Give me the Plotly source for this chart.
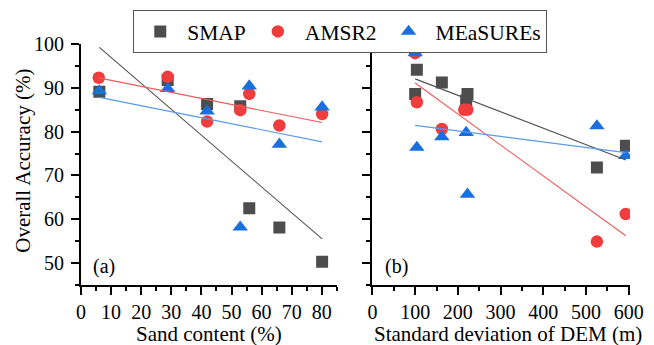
import numpy as np
import plotly.graph_objects as go

# ---------------- data ----------------
# Panel (a): Sand content (%)
sand_smap = [6.1, 28.8, 41.9, 52.9, 55.9, 65.9, 80.1]
oa_smap_a = [89.1, 91.8, 86.3, 85.8, 62.5, 58.1, 50.3]
sand_amsr2 = [5.9, 28.8, 41.9, 52.9, 55.9, 65.9, 80.1]
oa_amsr2_a = [92.3, 92.5, 82.3, 84.9, 88.6, 81.4, 84.0]
sand_meas = [6.1, 28.8, 41.9, 52.9, 55.9, 65.9, 80.1]
oa_meas_a = [89.3, 89.8, 84.7, 58.2, 90.4, 77.1, 85.6]

# Panel (b): Standard deviation of DEM (m)
dem_smap = [100, 104, 162.5, 219.4, 222.5, 525.5, 593.4]
oa_smap_b = [88.6, 94.1, 91.2, 87.1, 88.6, 71.8, 76.8]
dem_amsr2 = [100, 104, 162.5, 215, 222, 525.5, 593]
oa_amsr2_b = [97.9, 86.7, 80.6, 85.0, 85.0, 54.9, 61.2]
dem_meas = [100, 104, 162.5, 219.4, 222.5, 525.5, 593]
oa_meas_b = [98.0, 76.4, 78.8, 79.8, 65.7, 81.3, 74.5]

series = ["SMAP", "AMSR2", "MEaSUREs"]
y_ticks = [50, 60, 70, 80, 90, 100]
x_ticks_a = [0, 10, 20, 30, 40, 50, 60, 70, 80]
x_ticks_b = [0, 100, 200, 300, 400, 500, 600]
x_title_a = "Sand content (%)"
x_title_b = "Standard deviation of DEM (m)"
y_title = "Overall Accuracy (%)"

# ---------------- styling ----------------
FONT = "Liberation Serif"
marker_col = {"SMAP": "#4d4d4d", "AMSR2": "#f03c3c", "MEaSUREs": "#1a6fdf"}
line_col = {"SMAP": "#505050", "AMSR2": "#f05a5a", "MEaSUREs": "#5a9ae8"}
symbols = {"SMAP": "square", "AMSR2": "circle", "MEaSUREs": "triangle-up"}
sizes = {"SMAP": 12, "AMSR2": 12.5, "MEaSUREs": 13.5}

fig = go.Figure()

panels = [
    ("x", "y", {"SMAP": (sand_smap, oa_smap_a), "AMSR2": (sand_amsr2, oa_amsr2_a),
                "MEaSUREs": (sand_meas, oa_meas_a)}),
    ("x2", "y2", {"SMAP": (dem_smap, oa_smap_b), "AMSR2": (dem_amsr2, oa_amsr2_b),
                  "MEaSUREs": (dem_meas, oa_meas_b)}),
]

for pi, (xa, ya, d) in enumerate(panels):
    for s in series:
        xs, ys = d[s]
        fig.add_trace(go.Scatter(
            x=xs, y=ys, mode="markers", name=s, legendgroup=s,
            showlegend=(pi == 0), xaxis=xa, yaxis=ya,
            marker=dict(symbol=symbols[s], size=sizes[s], color=marker_col[s],
                        line=dict(width=0)),
        ))
    for s in series:
        xs, ys = d[s]
        k, b = np.polyfit(xs, ys, 1)
        xl = np.array([min(xs), max(xs)])
        fig.add_trace(go.Scatter(
            x=xl, y=k * xl + b, mode="lines", showlegend=False,
            xaxis=xa, yaxis=ya, hoverinfo="skip",
            line=dict(color=line_col[s], width=1.1),
        ))

axis_common = dict(
    showline=True, linewidth=2, linecolor="black", mirror=False,
    ticks="outside", ticklen=8, tickwidth=2, tickcolor="black",
    showgrid=False, zeroline=False, automargin=False,
    tickfont=dict(family=FONT, size=20, color="black"),
)
minor_y = dict(dtick=5, ticks="outside", ticklen=4, tickwidth=2, tickcolor="black")

L, R, T, B = 80.7, 24, 44, 60.3
W, H = 654, 345
pw = W - L - R
ph = H - T - B
dom_a = [0, (336.7 - L) / pw]
dom_b = [(372.3 - L) / pw, 1]

title_font = dict(family=FONT, size=21, color="black")
label_font = dict(family=FONT, size=20, color="black")

fig.update_layout(
    width=W, height=H,
    margin=dict(l=L, r=R, t=T, b=B, pad=0, autoexpand=False),
    paper_bgcolor="white", plot_bgcolor="white",
    font=dict(family=FONT, size=21, color="black"),
    xaxis=dict(axis_common, domain=dom_a, range=[0, 85], tickvals=x_ticks_a,
               minor=dict(dtick=5, ticks="outside", ticklen=4, tickwidth=2, tickcolor="black"),
               anchor="y"),
    yaxis=dict(axis_common, range=[45, 100], tickvals=y_ticks, ticklabelstandoff=3,
               minor=minor_y, anchor="x"),
    xaxis2=dict(axis_common, domain=dom_b, range=[0, 603], tickvals=x_ticks_b,
                minor=dict(dtick=50, ticks="outside", ticklen=4, tickwidth=2, tickcolor="black"),
                anchor="y2"),
    yaxis2=dict(axis_common, range=[45, 100], tickvals=y_ticks, showticklabels=False,
                minor=minor_y, anchor="x2"),
    legend=dict(
        orientation="h", x=(133 - L) / pw, xanchor="left",
        y=1 + (T - 10) / ph, yanchor="top",
        bordercolor="#555555", borderwidth=1, bgcolor="white",
        font=dict(family=FONT, size=21.5, color="black"),
        itemwidth=44, tracegroupgap=0,
    ),
    annotations=[
        dict(text="(a)", xref="x domain", yref="y domain", x=0.041, y=0.0785,
             xanchor="left", yanchor="middle", showarrow=False, font=label_font),
        dict(text="(b)", xref="x2 domain", yref="y2 domain", x=0.0415, y=0.0785,
             xanchor="left", yanchor="middle", showarrow=False, font=label_font),
        dict(text=x_title_a, xref="x domain", yref="paper", x=0.5,
             y=-(334 - (H - B)) / ph, xanchor="center", yanchor="middle",
             showarrow=False, font=title_font),
        dict(text=x_title_b, xref="x2 domain", yref="paper", x=(508 - 372.3) / (630 - 372.3),
             y=-(334 - (H - B)) / ph, xanchor="center", yanchor="middle",
             showarrow=False, font=title_font),
        dict(text=y_title, xref="paper", yref="paper", x=(23.3 - L) / pw,
             y=((H - B) - 161) / ph, xanchor="center", yanchor="middle",
             textangle=-90, showarrow=False, font=title_font),
    ],
)

fig.write_html("out.html")
